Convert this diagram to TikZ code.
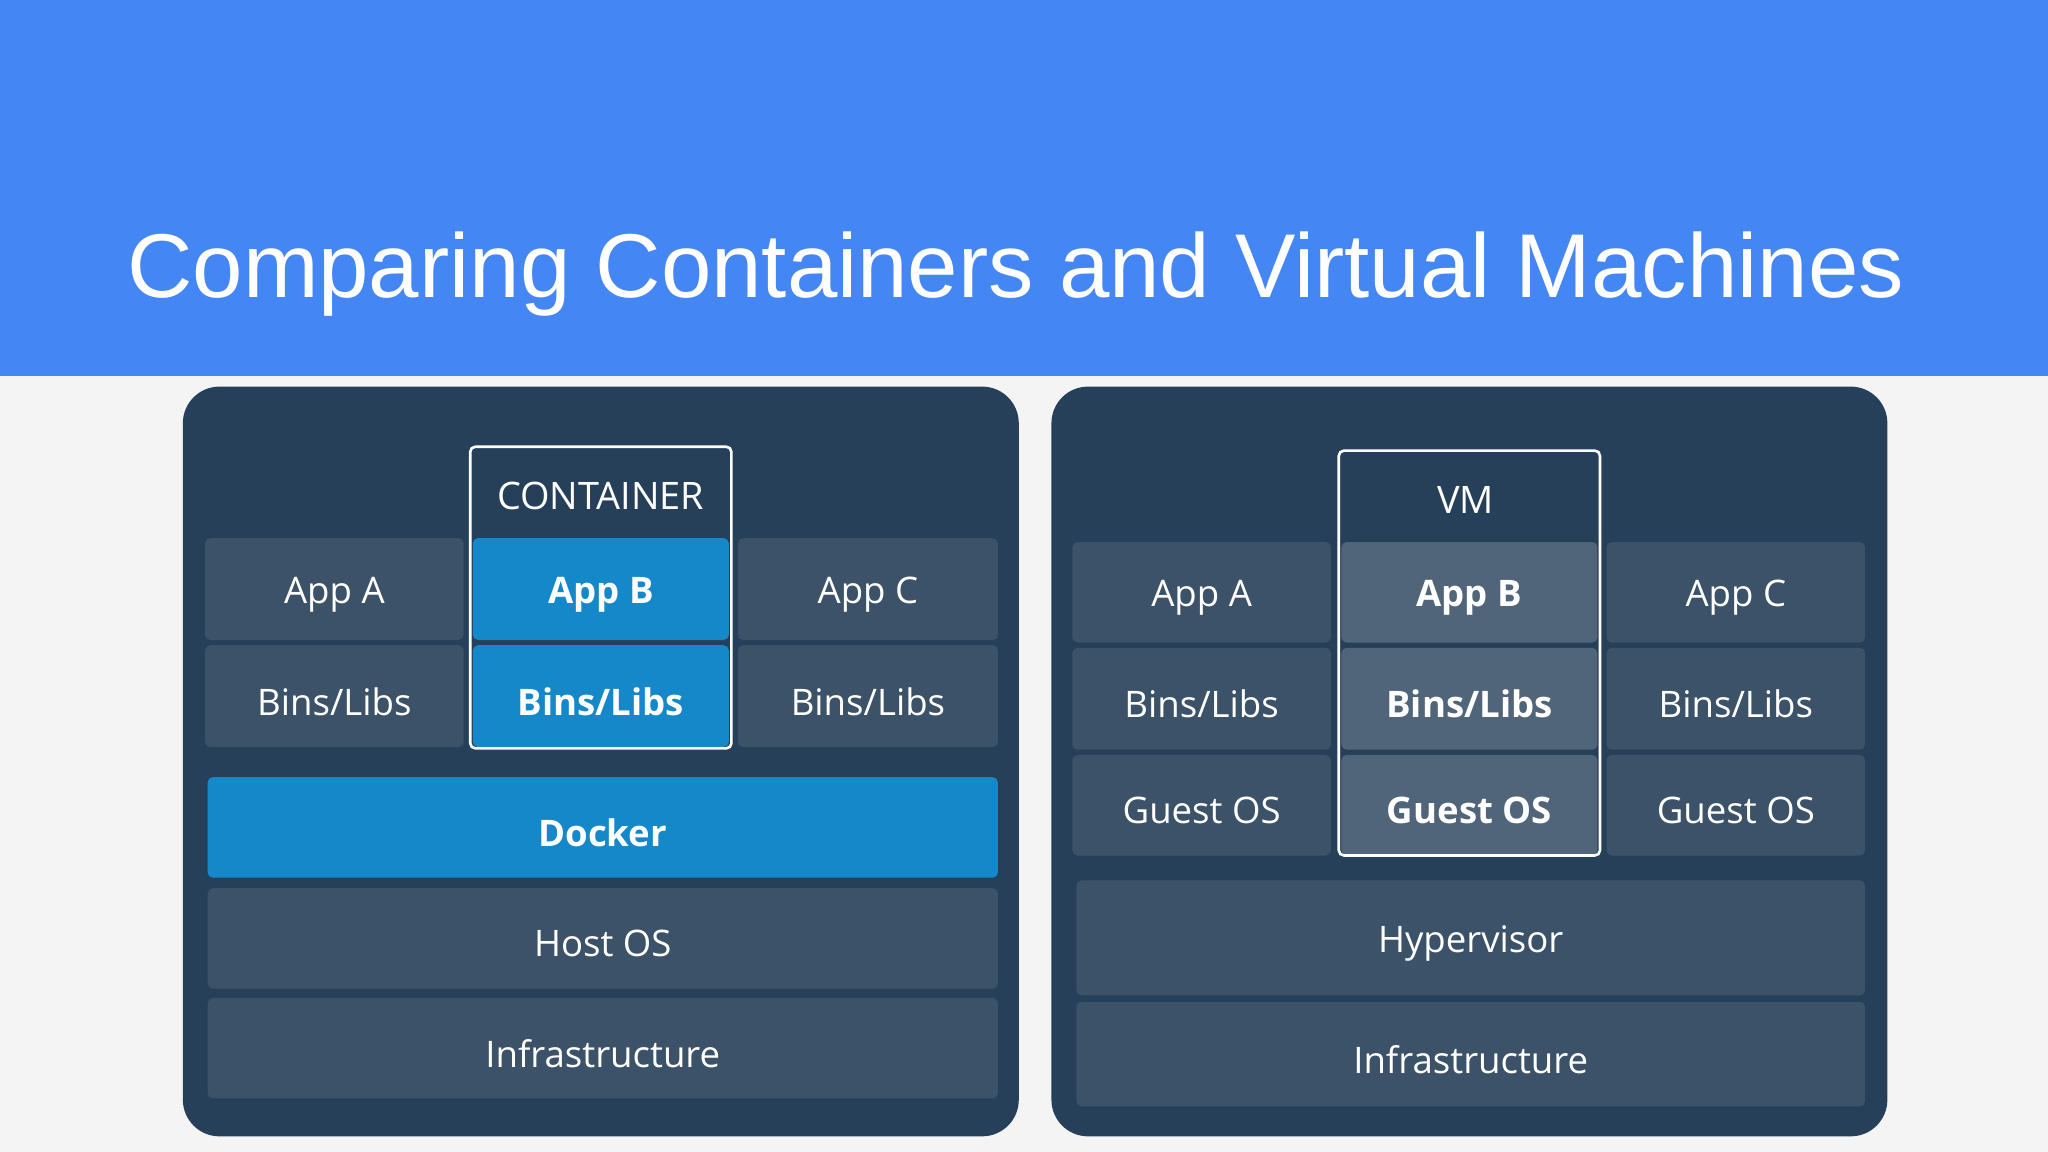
\documentclass[tikz,border=0pt]{standalone}
\usepackage{fontspec}
\setmainfont{Open Sans}
\newfontfamily\titlefont{Liberation Sans}
\definecolor{hdr}{HTML}{4487F4}
\definecolor{bg}{HTML}{F4F4F4}
\definecolor{panel}{HTML}{26405A}
\definecolor{cellc}{HTML}{3C5268}
\definecolor{blu}{HTML}{1588C9}
\definecolor{lite}{HTML}{50657A}
\begin{document}
\begin{tikzpicture}[x=0.5pt,y=-0.5pt,
  cell/.style={fill=cellc,rounded corners=2pt,text=white,font=\fontsize{14}{16}\selectfont},
  bluecell/.style={cell,fill=blu,font=\fontsize{14}{16}\selectfont\bfseries},
  litecell/.style={cell,fill=lite,font=\fontsize{14}{16}\selectfont\bfseries},
  frame/.style={draw=white,line width=1pt,rounded corners=2pt},
  pan/.style={fill=panel,rounded corners=14pt}]
\useasboundingbox (0,0) rectangle (1568,882);
\fill[bg] (0,0) rectangle (1568,882);
\fill[hdr] (0,0) rectangle (1568,288);
\node[anchor=base west,text=white,inner sep=0,font=\titlefont\fontsize{34.7}{38}\selectfont] (title) at (97,228) {Comparing Containers and Virtual Machines};
\fill[pan] (140,296) rectangle (780,870);
\fill[pan] (805,296) rectangle (1445,870);
\newcommand\cellbox[6]{\path[#1] (#2,#3) rectangle (#4,#5) node[midway,yshift=-2pt] {#6};}
% left
\cellbox{cell}{157}{412}{355}{490}{App A}
\cellbox{cell}{157}{494}{355}{572}{Bins/Libs}
\cellbox{bluecell}{362}{412}{558}{490}{App B}
\cellbox{bluecell}{362}{494}{558}{572}{Bins/Libs}
\cellbox{cell}{565}{412}{764}{490}{App C}
\cellbox{cell}{565}{494}{764}{572}{Bins/Libs}
\draw[frame] (360,342) rectangle (560,573);
\node[text=white,font=\fontsize{14.5}{16}\selectfont] (cont) at (460,380) {CONTAINER};
\cellbox{bluecell}{159}{595}{764}{672}{Docker}
\cellbox{cell}{159}{680}{764}{757}{Host OS}
\cellbox{cell}{159}{764}{764}{841}{Infrastructure}
% right
\cellbox{cell}{821}{415}{1019}{492}{App A}
\cellbox{cell}{821}{496}{1019}{574}{Bins/Libs}
\cellbox{cell}{821}{578}{1019}{655}{Guest OS}
\cellbox{litecell}{1027}{415}{1223}{492}{App B}
\cellbox{litecell}{1027}{496}{1223}{574}{Bins/Libs}
\cellbox{litecell}{1027}{578}{1223}{655}{Guest OS}
\cellbox{cell}{1230}{415}{1428}{492}{App C}
\cellbox{cell}{1230}{496}{1428}{574}{Bins/Libs}
\cellbox{cell}{1230}{578}{1428}{655}{Guest OS}
\draw[frame] (1025,345) rectangle (1225,655);
\node[text=white,font=\fontsize{14.5}{16}\selectfont] (vm) at (1122,383) {VM};
\cellbox{cell}{824}{674}{1428}{762}{Hypervisor}
\cellbox{cell}{824}{767}{1428}{847}{Infrastructure}
\end{tikzpicture}
\end{document}
